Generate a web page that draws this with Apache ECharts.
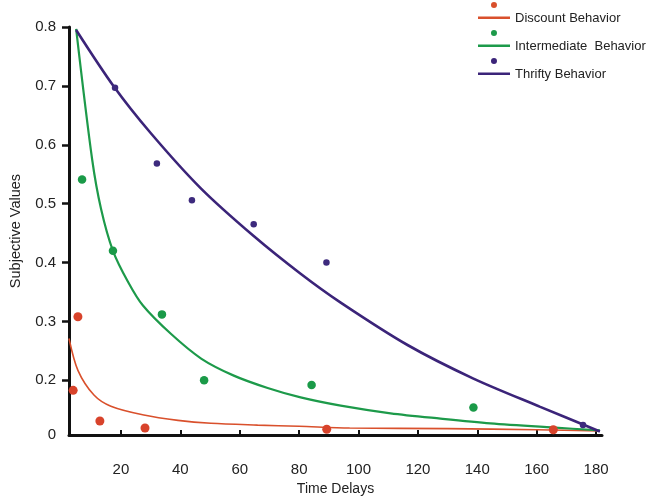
<!DOCTYPE html>
<html>
<head>
<meta charset="utf-8">
<script src="https://cdn.jsdelivr.net/npm/echarts@6/dist/echarts.min.js"></script>
<style>html,body{margin:0;padding:0;background:#fff}#c{width:652px;height:501px}</style>
</head>
<body>
<div id="c"></div>
<script>
// ---- data ----
const seriesNames = ['Discount Behavior', 'Intermediate  Behavior', 'Thrifty Behavior'];

const discountObsX = [3.9, 5.5, 12.9, 28.1, 89.3, 165.6];
const discountObsY = [0.183, 0.308, 0.131, 0.119, 0.117, 0.116];
const intermediateObsX = [6.9, 17.3, 33.8, 48.0, 84.2, 138.7];
const intermediateObsY = [0.541, 0.420, 0.312, 0.200, 0.192, 0.154];
const thriftyObsX = [18.0, 32.1, 43.9, 64.7, 89.2, 175.6];
const thriftyObsY = [0.697, 0.568, 0.506, 0.465, 0.400, 0.124];

const discountFitX = [2.5, 5.5, 10.9, 16.6, 27.7, 39.2, 50.3, 66, 80, 97, 130, 160, 181.3];
const discountFitY = [0.271, 0.217, 0.175, 0.156, 0.141, 0.132, 0.127, 0.124, 0.122, 0.119, 0.118, 0.116, 0.114];
const intermediateFitX = [4.9, 10.3, 13.3, 17.3, 22.4, 27.4, 36.8, 47, 58, 69.4, 80.5, 94, 110.8, 127.6, 144.4, 165, 181.3];
const intermediateFitY = [0.797, 0.575, 0.491, 0.420, 0.367, 0.327, 0.279, 0.237, 0.208, 0.187, 0.171, 0.157, 0.144, 0.135, 0.127, 0.120, 0.115];
const thriftyFitX = [4.9, 17.6, 30, 46.9, 64.7, 80.5, 94, 116.5, 138.7, 161.2, 181.3];
const thriftyFitY = [0.795, 0.699, 0.62, 0.526, 0.445, 0.381, 0.332, 0.260, 0.203, 0.155, 0.113];

const xTickValues = [20, 40, 60, 80, 100, 120, 140, 160, 180];
const yTickValues = [0.2, 0.3, 0.4, 0.5, 0.6, 0.7, 0.8];
const yLabelValues = [0.107, 0.2, 0.3, 0.4, 0.5, 0.6, 0.7, 0.8];
const yLabelTexts = ['0', '0.2', '0.3', '0.4', '0.5', '0.6', '0.7', '0.8'];

// ---- build ----
const zip = (xs, ys) => xs.map((x, i) => [x, ys[i]]);
const colors = ['#d9502c', '#1d9a4a', '#3b2479'];
const dotColors = ['#d8432b', '#1a9a48', '#3d2a7d'];
const dotSizes = [9, 8.5, 6.5];
const lineWidths = [1.6, 2.2, 2.6];
const obs = [zip(discountObsX, discountObsY), zip(intermediateObsX, intermediateObsY), zip(thriftyObsX, thriftyObsY)];
const fits = [zip(discountFitX, discountFitY), zip(intermediateFitX, intermediateFitY), zip(thriftyFitX, thriftyFitY)];

const iconPath = 'path://M16,0 A3,3 0 1,1 15.99,0 Z M0,14.5 L32,14.5 L32,17 L0,17 Z';

const series = [];
seriesNames.forEach((name, i) => {
  series.push({
    name, type: 'line', data: fits[i], smooth: 0.3, showSymbol: false, symbol: 'none',
    lineStyle: { color: colors[i], width: lineWidths[i] }, itemStyle: { color: colors[i] },
    z: 2, silent: true
  });
  series.push({
    name, type: 'scatter', data: obs[i], symbolSize: dotSizes[i],
    itemStyle: { color: dotColors[i], opacity: 1 }, z: 3
  });
});

const font = 'Liberation Sans, Arial, sans-serif';
const chart = echarts.init(document.getElementById('c'), null, { renderer: 'canvas' });
chart.setOption({
  animation: false,
  backgroundColor: '#fff',
  grid: { left: 68, right: 50, top: 27, bottom: 64, containLabel: false },
  legend: {
    data: seriesNames.map(n => ({ name: n, icon: iconPath })),
    orient: 'vertical', left: 478, top: 2, padding: 0,
    itemWidth: 32, itemHeight: 17, itemGap: 5,
    formatter: '{a|{name}}',
    textStyle: {
      fontFamily: font, fontSize: 13, color: '#222',
      rich: { a: { fontFamily: font, fontSize: 13, color: '#222', padding: [16, 0, 0, 0] } }
    },
    selectedMode: false
  },
  xAxis: {
    type: 'value', min: 2.5, max: 182,
    name: 'Time Delays', nameLocation: 'middle', nameGap: 46,
    nameTextStyle: { fontFamily: font, fontSize: 14, color: '#222' },
    axisLine: { show: true, lineStyle: { color: '#111', width: 3 } },
    axisTick: { show: true, inside: true, length: 5, customValues: xTickValues, lineStyle: { color: '#111', width: 2 } },
    axisLabel: { customValues: xTickValues, margin: 27, fontFamily: font, fontSize: 15, color: '#222' },
    splitLine: { show: false }
  },
  yAxis: {
    type: 'value', min: 0.107, max: 0.8,
    name: 'Subjective Values', nameLocation: 'middle', nameGap: 46, nameRotate: 90,
    nameTextStyle: { fontFamily: font, fontSize: 14.5, color: '#222' },
    axisLine: { show: true, lineStyle: { color: '#111', width: 3 } },
    axisTick: { show: true, inside: false, length: 7, customValues: yTickValues, lineStyle: { color: '#111', width: 2.5 } },
    axisLabel: {
      customValues: yLabelValues, margin: 13, fontFamily: font, fontSize: 15, color: '#222',
      formatter: (v) => {
        let best = 0;
        yLabelValues.forEach((t, i) => { if (Math.abs(t - v) < Math.abs(yLabelValues[best] - v)) best = i; });
        return yLabelTexts[best];
      }
    },
    splitLine: { show: false }
  },
  series
});
</script>
</body>
</html>
